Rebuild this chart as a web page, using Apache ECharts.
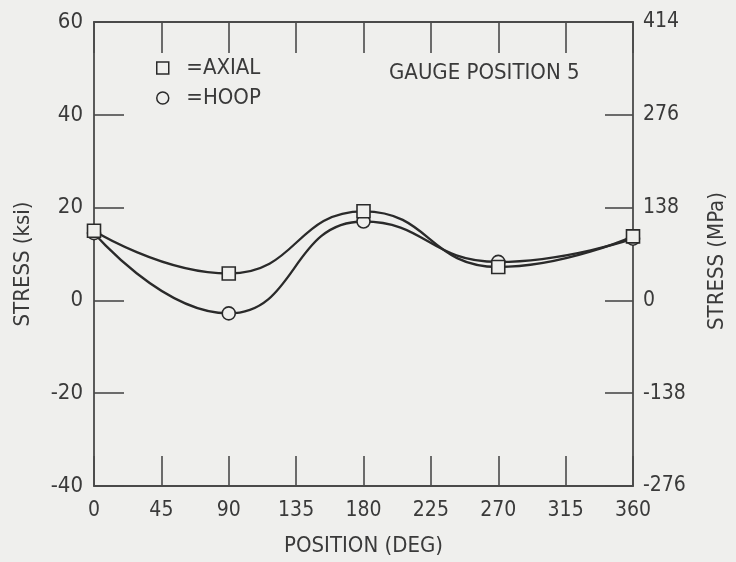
<!DOCTYPE html>
<html>
<head>
<meta charset="utf-8">
<script src="https://cdn.jsdelivr.net/npm/echarts@6/dist/echarts.min.js"></script>
<style>
  html, body { margin: 0; padding: 0; background: #efefed; }
  #chart { width: 736px; height: 562px; }
</style>
</head>
<body>
<div id="chart"></div>
<script>
// Circumferential position of each gauge reading (degrees)
const positions = [0, 90, 180, 270, 360];
// Measured stresses (ksi)
const axialStress = [15.0, 5.8, 19.2, 7.2, 13.8];
const hoopStress = [14.5, -2.8, 17.0, 8.3, 13.3];
// Axis tick values
const ksiTicks = { min: -40, max: 60, step: 20 };
const mpaTicks = { min: -276, max: 414, step: 138 };
const degTicks = { min: 0, max: 360, step: 45 };

const FONT = '"Liberation Sans Narrow", "DejaVu Sans Condensed", "Roboto", sans-serif';
const INK = '#3a3a3a';
const LINE = '#2a2a2a';
const BG = '#efefed';

const pairs = (ys) => positions.map((x, i) => [x, ys[i]]);

const axisLine = { show: true, onZero: false, lineStyle: { color: '#4a4a4a', width: 1.8 } };
const tickStyle = { color: '#4a4a4a', width: 1.6 };

const chart = echarts.init(document.getElementById('chart'), null, { renderer: 'canvas' });
chart.setOption({
  backgroundColor: BG,
  animation: false,
  title: {
    text: 'GAUGE POSITION 5',
    left: 384, top: 57,
    textStyle: { fontFamily: FONT, fontSize: 22, fontWeight: 'normal', color: INK }
  },
  legend: {
    orient: 'vertical',
    left: 151, top: 52,
    itemWidth: 12, itemHeight: 12,
    itemGap: 8,
    data: [{ name: 'AXIAL', icon: 'rect' }, { name: 'HOOP', icon: 'circle' }],
    formatter: (name) => '  =' + name,
    textStyle: { fontFamily: FONT, fontSize: 22, color: INK },
    itemStyle: { color: BG, borderColor: LINE, borderWidth: 1.5 }
  },
  grid: { left: 94, right: 97, top: 22, bottom: 73, containLabel: false },
  xAxis: [{
    type: 'value', position: 'bottom',
    min: degTicks.min, max: degTicks.max, interval: degTicks.step,
    name: 'POSITION (DEG)', nameLocation: 'middle', nameGap: 49,
    nameTextStyle: { fontFamily: FONT, fontSize: 22, color: INK },
    axisLine,
    axisTick: { show: true, inside: true, length: 30, lineStyle: tickStyle },
    axisLabel: { fontFamily: FONT, fontSize: 21, color: INK, margin: 14 },
    splitLine: { show: false }
  }, {
    type: 'value', position: 'top',
    min: degTicks.min, max: degTicks.max, interval: degTicks.step,
    axisLine,
    axisTick: { show: true, inside: true, length: 31, lineStyle: tickStyle },
    axisLabel: { show: false },
    splitLine: { show: false }
  }],
  yAxis: [{
    type: 'value', position: 'left',
    min: ksiTicks.min, max: ksiTicks.max, interval: ksiTicks.step,
    name: 'STRESS (ksi)', nameLocation: 'middle', nameGap: 60, nameRotate: 90,
    nameTextStyle: { fontFamily: FONT, fontSize: 22, color: INK, padding: [0, 20, 0, 0] },
    axisLine,
    axisTick: { show: true, inside: true, length: 30, lineStyle: tickStyle },
    axisLabel: { fontFamily: FONT, fontSize: 22, color: INK, margin: 11 },
    splitLine: { show: false }
  }, {
    type: 'value', position: 'right',
    min: mpaTicks.min, max: mpaTicks.max, interval: mpaTicks.step,
    name: 'STRESS (MPa)', nameLocation: 'middle', nameGap: 73, nameRotate: 90,
    nameTextStyle: { fontFamily: FONT, fontSize: 22, color: INK, padding: [0, 14, 0, 0] },
    axisLine,
    axisTick: { show: true, inside: true, length: 28, lineStyle: tickStyle },
    axisLabel: { fontFamily: FONT, fontSize: 21, color: INK, margin: 10 },
    splitLine: { show: false }
  }],
  series: [{
    name: 'AXIAL', type: 'line', xAxisIndex: 0, yAxisIndex: 0,
    data: pairs(axialStress),
    smooth: 0.5,
    symbol: 'rect', symbolSize: 13,
    lineStyle: { color: LINE, width: 2.3 },
    itemStyle: { color: BG, borderColor: LINE, borderWidth: 1.6 },
    z: 3
  }, {
    name: 'HOOP', type: 'line', xAxisIndex: 0, yAxisIndex: 0,
    data: pairs(hoopStress),
    smooth: 0.5,
    symbol: 'circle', symbolSize: 13,
    lineStyle: { color: LINE, width: 2.3 },
    itemStyle: { color: BG, borderColor: LINE, borderWidth: 1.6 },
    z: 2
  }]
});
</script>
</body>
</html>
